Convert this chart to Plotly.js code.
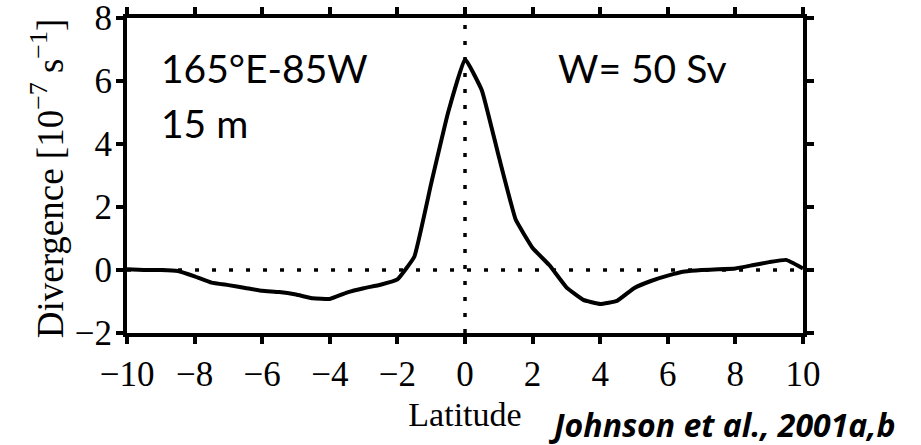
<!DOCTYPE html>
<html>
<head>
<meta charset="utf-8">
<script src="https://cdn.plot.ly/plotly-3.0.1.min.js"></script>
<style>html,body{margin:0;padding:0;background:#fff}#chart{width:921px;height:445px}</style>
</head>
<body>
<div id="chart"></div>
<script>
const latitude = [-10, -9.5, -9, -8.5, -8, -7.5, -7, -6.5, -6, -5.5, -5, -4.5, -4, -3.5, -3, -2.5, -2, -1.5, -1, -0.5, 0, 0.5, 1, 1.5, 2, 2.5, 3, 3.5, 4, 4.5, 5, 5.5, 6, 6.5, 7, 7.5, 8, 8.5, 9, 9.5, 10];
const divergence = [0.02, 0.0, 0.0, -0.03, -0.2, -0.4, -0.48, -0.57, -0.66, -0.7, -0.78, -0.9, -0.92, -0.72, -0.58, -0.47, -0.3, 0.42, 2.75, 5.0, 6.7, 5.7, 3.6, 1.6, 0.7, 0.15, -0.55, -0.95, -1.08, -0.98, -0.58, -0.35, -0.18, -0.05, 0.0, 0.02, 0.05, 0.15, 0.25, 0.32, 0.05];
const xTicks = [-10, -8, -6, -4, -2, 0, 2, 4, 6, 8, 10];
const xTickText = ['\u221210', '\u22128', '\u22126', '\u22124', '\u22122', '0', '2', '4', '6', '8', '10'];
const yTicks = [-2, 0, 2, 4, 6, 8];
const yTickText = ['\u22122', '0', '2', '4', '6', '8'];

const serif = 'Liberation Serif, Times New Roman, serif';
const sans = 'Lato, Open Sans, sans-serif';

const trace = {
  x: latitude, y: divergence, type: 'scatter', mode: 'lines',
  line: {color: '#000', width: 4, shape: 'spline', smoothing: 0.3},
  hoverinfo: 'skip'
};

const layout = {
  width: 921, height: 445,
  margin: {l: 127, r: 118, t: 18, b: 112},
  paper_bgcolor: '#fff', plot_bgcolor: '#fff',
  showlegend: false,
  xaxis: {
    range: [-10.001, 10.001], tickvals: xTicks, ticktext: xTickText,
    showgrid: false, zeroline: false,
    showline: true, linewidth: 4, linecolor: '#000', mirror: 'allticks',
    ticks: 'outside', ticklen: 7, tickwidth: 4, tickcolor: '#000',
    ticklabelstandoff: 0, ticklabeloverflow: 'allow',
    tickfont: {family: serif, size: 35, color: '#000'},
    title: {text: 'Latitude', font: {family: serif, size: 34, color: '#000'}, standoff: 10}
  },
  yaxis: {
    range: [-2.001, 8.001], tickvals: yTicks, ticktext: yTickText,
    showgrid: false, zeroline: false,
    showline: true, linewidth: 4, linecolor: '#000', mirror: 'allticks',
    ticks: 'outside', ticklen: 7, tickwidth: 4, tickcolor: '#000',
    ticklabelstandoff: -3, ticklabeloverflow: 'allow',
    tickfont: {family: serif, size: 35, color: '#000'}
  },
  shapes: [
    {type: 'line', xref: 'x', yref: 'y', x0: -10, x1: 10, y0: 0, y1: 0, line: {color: '#000', width: 3.5, dash: '4px,13px'}, layer: 'below'},
    {type: 'line', xref: 'x', yref: 'y', x0: 0, x1: 0, y0: -2, y1: 8, line: {color: '#000', width: 3.5, dash: '4px,12px'}, layer: 'below'}
  ],
  annotations: [
    {xref: 'paper', yref: 'paper', x: -0.118, y: 0.492, xanchor: 'center', yanchor: 'middle', textangle: -90, showarrow: false, text: 'Divergence [10<sup>\u22127</sup> s<sup>\u22121</sup>]', font: {family: serif, size: 37, color: '#000'}},
    {xref: 'paper', yref: 'paper', x: 0.047, y: 0.842, xanchor: 'left', yanchor: 'middle', showarrow: false, text: '165\u00b0E-85W', font: {family: sans, size: 39, color: '#000'}},
    {xref: 'paper', yref: 'paper', x: 0.047, y: 0.667, xanchor: 'left', yanchor: 'middle', showarrow: false, text: '15 m', font: {family: sans, size: 39, color: '#000'}},
    {xref: 'paper', yref: 'paper', x: 0.635, y: 0.842, xanchor: 'left', yanchor: 'middle', showarrow: false, text: 'W= 50 Sv', font: {family: sans, size: 39, color: '#000'}},
    {xref: 'paper', yref: 'paper', x: 1.1405, y: -0.292, xanchor: 'right', yanchor: 'middle', showarrow: false, text: '<b><i>Johnson et al., 2001a,b</i></b>', font: {family: 'Open Sans, sans-serif', size: 32, color: '#000'}}
  ]
};

Plotly.newPlot('chart', [trace], layout, {staticPlot: true, displayModeBar: false});
</script>
</body>
</html>
